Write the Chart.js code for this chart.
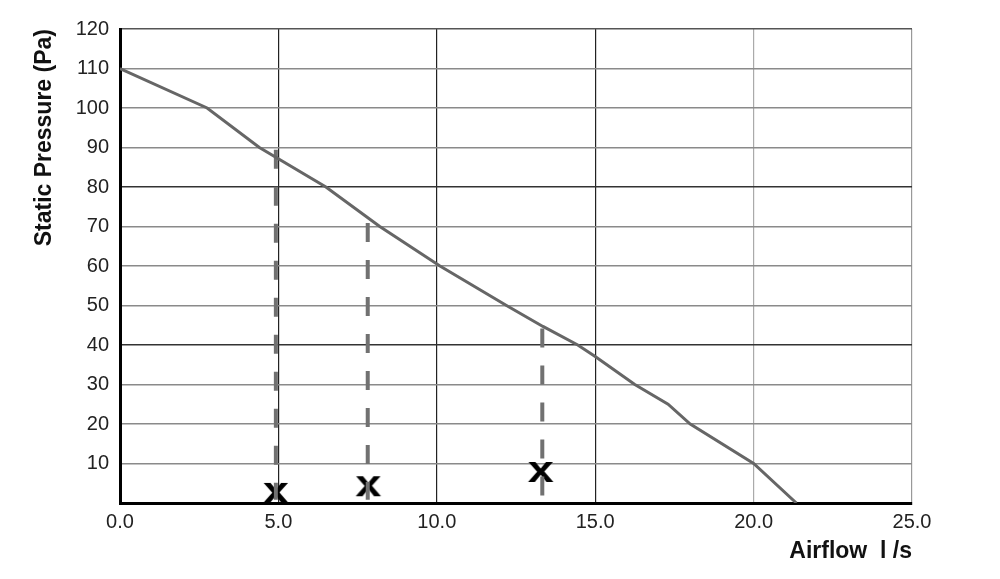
<!DOCTYPE html>
<html>
<head>
<meta charset="utf-8">
<script src="https://cdn.jsdelivr.net/npm/chart.js@4/dist/chart.umd.min.js"></script>
<style>
  html, body { margin: 0; padding: 0; background: #fff; }
  #wrap { width: 1000px; height: 579px; }
</style>
</head>
<body>
<div id="wrap"><canvas id="fanChart"></canvas></div>
<script>
// fan curve
var curveFlow = [0, 2.75, 4.4, 6.5, 8.2, 10.1, 12.2, 13.35, 14.45, 15.0, 16.25, 17.3, 18.0, 20.0, 21.35];
var curvePressure = [110, 100, 90, 80, 70, 60, 50, 44.7, 40, 37.1, 30, 25, 20, 10, 0];

// dashed drop lines
var dropFlow = [4.92, 7.82, 13.33];
var dropTop = [89.4, 70.9, 44.2];
var dropBottom = [0.8, 0.8, 1.5];

// x markers
var markFlow = [4.92, 7.84, 13.28];
var markPressure = [2.3, 4.0, 7.6];

var xTicks = [0, 5, 10, 15, 20, 25];
var yTicks = [10, 20, 30, 40, 50, 60, 70, 80, 90, 100, 110, 120];

function toPoints(xs, ys) {
  return xs.map(function (x, i) { return { x: x, y: ys[i] }; });
}

// bold "x" glyph used as the marker
var mark = document.createElement('canvas');
mark.width = 30; mark.height = 24;
var mctx = mark.getContext('2d');
mctx.fillStyle = '#000';
mctx.font = 'bold 36px "Liberation Sans", Arial, sans-serif';
mctx.textAlign = 'center';
mctx.textBaseline = 'alphabetic';
mctx.save();
mctx.translate(15, 21);
mctx.scale(1.3, 1);
mctx.fillText('x', 0, 0);
mctx.restore();

var datasets = [{
  data: toPoints(curveFlow, curvePressure),
  borderColor: '#666',
  borderWidth: 3,
  pointRadius: 0,
  tension: 0
}];

dropFlow.forEach(function (f, i) {
  datasets.push({
    data: [{ x: f, y: dropTop[i] }, { x: f, y: dropBottom[i] }],
    borderColor: '#717171',
    borderWidth: 4,
    borderDash: [19, 18],
    borderCapStyle: 'butt',
    pointRadius: 0
  });
});

datasets.push({
  data: toPoints(markFlow, markPressure),
  showLine: false,
  pointStyle: mark,
  pointRadius: 12
});

var tickFont = { family: '"Liberation Sans", Arial, sans-serif', size: 20 };
var titleFont = { family: '"Liberation Sans", Arial, sans-serif', size: 23, weight: 'bold' };

new Chart('fanChart', {
  type: 'line',
  data: { datasets: datasets },
  options: {
    responsive: true,
    maintainAspectRatio: false,
    animation: false,
    layout: { padding: { top: 29, right: 88, left: 0, bottom: 0 } },
    plugins: { legend: { display: false }, tooltip: { enabled: false } },
    scales: {
      x: {
        type: 'linear',
        min: 0, max: 25,
        afterFit: function (s) { s.height = 76; },
        afterBuildTicks: function (s) { s.ticks = xTicks.map(function (v) { return { value: v }; }); },
        ticks: {
          color: '#222',
          font: tickFont,
          padding: 7,
          callback: function (v) { return v.toFixed(1); }
        },
        grid: {
          drawTicks: false,
          lineWidth: 1.2,
          color: function (c) {
            var v = c.tick && c.tick.value;
            if (v === 20) return '#aaa';
            if (v === 25) return '#999';
            return '#222';
          }
        },
        border: { color: '#000', width: 3 },
        title: {
          display: true,
          text: 'Airflow  l /s',
          align: 'end',
          color: '#111',
          font: titleFont,
          padding: { top: 0, bottom: 14 }
        }
      },
      y: {
        min: 0, max: 120,
        afterFit: function (s) { s.width = 120; },
        afterBuildTicks: function (s) { s.ticks = [{ value: 0 }].concat(yTicks.map(function (v) { return { value: v }; })); },
        ticks: {
          color: '#222',
          font: tickFont,
          padding: 11,
          callback: function (v) { return v === 0 ? '' : v; }
        },
        grid: {
          drawTicks: false,
          lineWidth: 1.5,
          color: function (c) {
            var v = c.tick && c.tick.value;
            if (v === 80 || v === 40) return '#333';
            if (v === 120) return '#555';
            return '#8a8a8a';
          }
        },
        border: { color: '#000', width: 3 },
        title: {
          display: true,
          text: 'Static Pressure (Pa)',
          align: 'end',
          color: '#111',
          font: titleFont,
          padding: { top: 31, bottom: 0 }
        }
      }
    }
  }
});
</script>
</body>
</html>
